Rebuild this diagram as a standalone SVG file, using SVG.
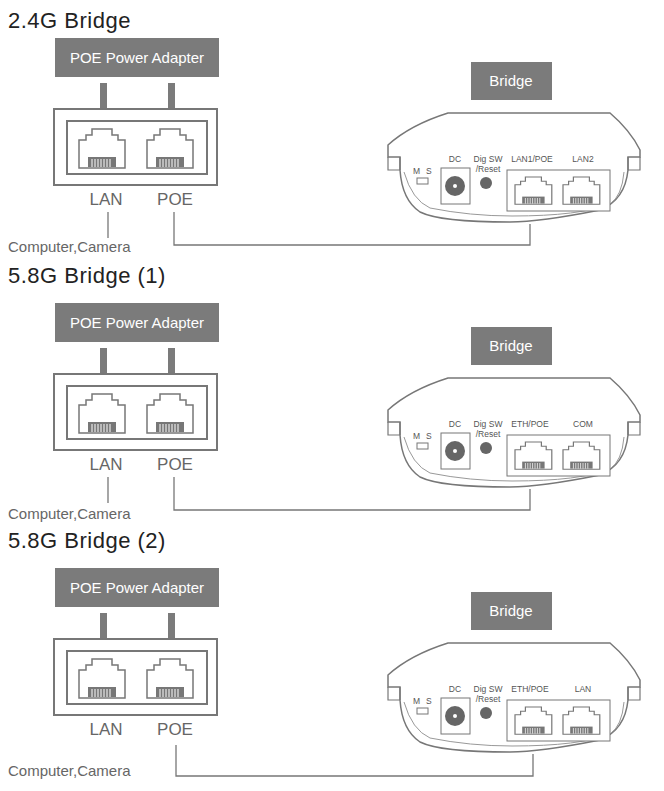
<svg xmlns="http://www.w3.org/2000/svg" xmlns:xlink="http://www.w3.org/1999/xlink" width="664" height="791" viewBox="0 0 664 791">
<style>
.t{font-family:"Liberation Sans",Arial,sans-serif;}
.title{font-size:22px;fill:#222;letter-spacing:0.5px}
.lbl{font-size:17px;fill:#666}
.cc{font-size:15px;fill:#666}
.box{fill:#7b7b7b}
.bt{font-size:15px;fill:#fff}
.ln{fill:none;stroke:#777;stroke-width:1.3}
.out{fill:#fff;stroke:#777;stroke-width:2}
.small{font-size:8.5px;fill:#555}
</style>
<defs>
<g id="jack">
<path d="M0,11 h7 v-5 h6 v-6 h20 v6 h6 v5 h7 v28 h-46 z" fill="#fff" stroke="#777" stroke-width="1.5"/>
<rect x="9" y="28" width="28" height="10" fill="#777"/>
<g stroke="#fff" stroke-width="1"><line x1="13" y1="30" x2="13" y2="38"/><line x1="16" y1="30" x2="16" y2="38"/><line x1="19" y1="30" x2="19" y2="38"/><line x1="22" y1="30" x2="22" y2="38"/><line x1="25" y1="30" x2="25" y2="38"/><line x1="28" y1="30" x2="28" y2="38"/><line x1="31" y1="30" x2="31" y2="38"/></g>
</g>
<g id="adapter">
<rect class="box" x="55" y="38" width="164" height="39"/>
<text class="t bt" x="137" y="63" text-anchor="middle">POE Power Adapter</text>
<rect x="100" y="83" width="7" height="25" fill="#7b7b7b"/>
<rect x="168" y="83" width="7" height="25" fill="#7b7b7b"/>
<rect class="out" x="54" y="109" width="163" height="76"/>
<rect class="out" x="67" y="121" width="140" height="53"/>
<use xlink:href="#jack" x="79" y="129"/>
<use xlink:href="#jack" x="147" y="129"/>
<text class="t lbl" x="106" y="205" text-anchor="middle">LAN</text>
<text class="t lbl" x="175" y="205" text-anchor="middle">POE</text>
</g>
<g id="bridge">
<rect class="box" x="471" y="62" width="81" height="38"/>
<text class="t bt" x="511" y="86" text-anchor="middle">Bridge</text>
<path d="M448,113 L610,113 Q630,130 640,150 L640,157 L628,157 L628,170 Q625,200 600,210 Q540,222 510,222 Q440,222 420,212 Q402,200 400,170 L400,157 L388,157 L388,145 Q410,125 448,113 Z" fill="#fff" stroke="#777" stroke-width="1.5"/>
<path d="M400,157 L400,170 M628,157 L628,170 M388,157 L388,170 L400,170 M628,170 L640,170 L640,157" fill="none" stroke="#777" stroke-width="1.2"/>
<path d="M404,172 Q412,200 430,208 Q470,216 512,216 Q580,216 610,204 Q622,196 624,172" fill="none" stroke="#999" stroke-width="1"/>
<text class="t small" x="413" y="174">M</text><text class="t small" x="426" y="174">S</text>
<rect x="417" y="178" width="11" height="6" fill="#fff" stroke="#777"/>
<text class="t small" x="455" y="162" text-anchor="middle" font-size="10">DC</text>
<rect x="441" y="168" width="29" height="36" fill="#fff" stroke="#777"/>
<circle cx="455" cy="186" r="10" fill="#666"/><circle cx="455" cy="186" r="2" fill="#fff"/>
<text class="t small" x="488" y="162" text-anchor="middle">Dig SW</text>
<text class="t small" x="488" y="172" text-anchor="middle">/Reset</text>
<circle cx="486" cy="183" r="6" fill="#666"/>
<rect x="507" y="170" width="103" height="41" fill="#fff" stroke="#777"/>
<g transform="translate(515,177) scale(0.8,0.7)"><use xlink:href="#jack"/></g>
<g transform="translate(563,177) scale(0.8,0.7)"><use xlink:href="#jack"/></g>
</g>
</defs>

<g id="section1">
<text class="t title" x="8" y="28">2.4G Bridge</text>
<g id="adapter1"><use xlink:href="#adapter"/></g>
<g id="bridge1"><use xlink:href="#bridge"/>
<text class="t small" x="532" y="162" text-anchor="middle">LAN1/POE</text>
<text class="t small" x="583" y="162" text-anchor="middle">LAN2</text></g>
<text class="t cc" x="8" y="252">Computer,Camera</text>
</g>

<g id="section2" transform="translate(0,265)">
<text class="t title" x="8" y="18">5.8G Bridge (1)</text>
<g id="adapter2"><use xlink:href="#adapter"/></g>
<g id="bridge2"><use xlink:href="#bridge"/>
<text class="t small" x="530" y="162" text-anchor="middle">ETH/POE</text>
<text class="t small" x="583" y="162" text-anchor="middle">COM</text></g>
<text class="t cc" x="8" y="254">Computer,Camera</text>
</g>

<g id="section3" transform="translate(0,530)">
<text class="t title" x="8" y="18">5.8G Bridge (2)</text>
<g id="adapter3"><use xlink:href="#adapter"/></g>
<g id="bridge3"><use xlink:href="#bridge"/>
<text class="t small" x="530" y="162" text-anchor="middle">ETH/POE</text>
<text class="t small" x="583" y="162" text-anchor="middle">LAN</text></g>
<text class="t cc" x="8" y="246">Computer,Camera</text>
</g>

<g id="connectors">
<path class="ln" d="M108,212 V238"/>
<path class="ln" d="M174,212 V245 H530 V224"/>
<path class="ln" d="M108,477 V503"/>
<path class="ln" d="M174,477 V510 H530 V489"/>
<path class="ln" d="M176,745 V776 H533 V754"/>
</g>
</svg>
